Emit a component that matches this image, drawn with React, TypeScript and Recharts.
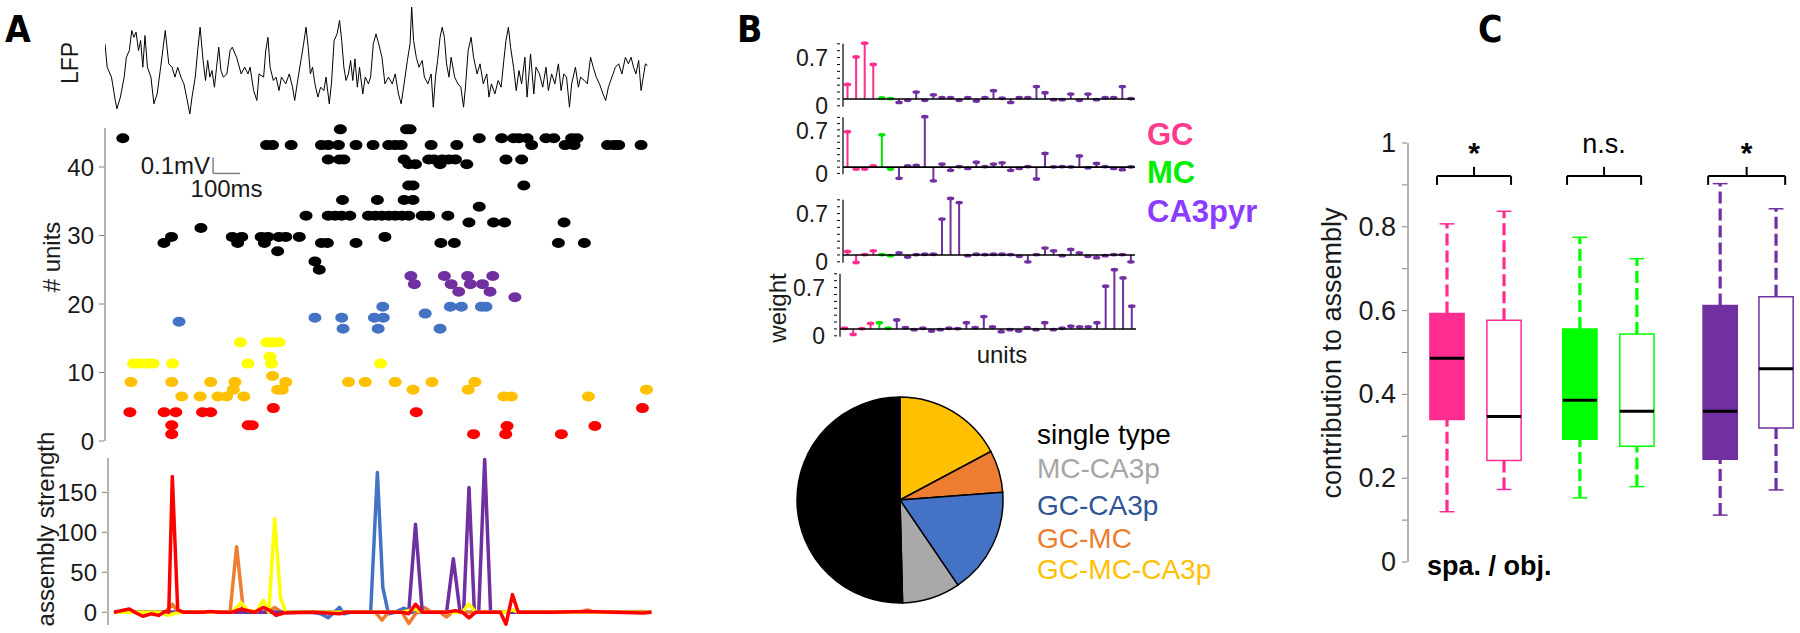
import React from 'react';
import {
  LineChart, Line, XAxis, YAxis, ScatterChart, Scatter, ComposedChart, Bar,
  ReferenceLine, ReferenceArea, PieChart, Pie, Cell, Label,
} from 'recharts';

if (typeof document !== 'undefined') {
  document.body.style.margin = '0';
}

const FONT = '"Liberation Sans", Arial, Helvetica, sans-serif';
const FONT_NARROW = '"Liberation Sans Narrow", "Arial Narrow", "DejaVu Sans Condensed", "Liberation Sans", Arial, sans-serif';
const AXIS_GRAY = '#7f7f7f';
const TXT = '#1a1a1a';

// ---------------- Panel A data ----------------
// LFP trace: [time ms, microvolts]
const lfpTrace: [number, number][] = [
  [0, 146], [8, 0], [24, -62], [38, -208], [44, -260], [57, -187], [71, -62], [79, 62], [90, 104], [99, 229],
  [107, 187], [115, 219], [124, 104], [132, 167], [140, 0], [148, 198], [157, 0], [170, -62], [181, -229], [193, -167],
  [206, 0], [223, 229], [236, 21], [248, 0], [259, -62], [269, 0], [281, -62], [292, -104], [302, -187], [314, -292],
  [322, -187], [334, -62], [343, 104], [352, 250], [363, 42], [372, -83], [380, 42], [388, -62], [396, -21], [405, -125],
  [413, 0], [421, 125], [429, -21], [438, -62], [451, -42], [463, 104], [471, 125], [487, 62], [504, -42], [517, 0],
  [529, -42], [537, 0], [550, -146], [562, -208], [570, -42], [587, -62], [595, 104], [603, 187], [611, 0], [623, -83],
  [633, -62], [644, -146], [653, -62], [669, -104], [682, -42], [694, -125], [702, -208], [715, -62], [727, 62], [735, 146],
  [744, 250], [752, 125], [760, -42], [768, 0], [777, -104], [788, -187], [798, -125], [810, -146], [818, -62], [830, -229],
  [838, -104], [848, 167], [859, 208], [868, 292], [876, 167], [884, 0], [892, -83], [901, -42], [909, 42], [917, -83],
  [925, 52], [934, -125], [942, 0], [954, -167], [963, -62], [975, -104], [983, -62], [993, 146], [1003, 208], [1013, 146],
  [1025, 62], [1036, -104], [1049, -62], [1063, -104], [1074, -42], [1086, -167], [1096, -229], [1107, -104], [1119, 42], [1129, 146],
  [1135, 375], [1142, 167], [1152, 62], [1162, 0], [1174, 42], [1182, -62], [1195, -104], [1207, -42], [1215, -250], [1223, -62],
  [1231, 42], [1240, 187], [1248, 250], [1256, 187], [1264, 21], [1273, -62], [1281, 62], [1294, -62], [1306, -104], [1317, -125],
  [1327, -250], [1334, -125], [1344, 104], [1355, 187], [1364, 62], [1377, -42], [1388, 21], [1400, -104], [1413, -42], [1421, -187],
  [1430, -104], [1443, -167], [1455, -83], [1466, -125], [1476, 42], [1484, 167], [1493, 250], [1501, 125], [1512, 0], [1522, -146],
  [1532, -21], [1542, -104], [1554, 62], [1562, -187], [1575, 83], [1587, -167], [1595, 0], [1608, -42], [1620, -125], [1632, 0],
  [1641, -146], [1653, -42], [1665, -104], [1678, 21], [1688, -146], [1698, -42], [1708, -62], [1719, -250], [1727, -104], [1741, 0],
  [1752, -125], [1760, -62], [1774, -83], [1785, -104], [1797, 62], [1807, 0], [1818, -62], [1830, -104], [1843, -167], [1853, -208],
  [1863, -125], [1876, -62], [1889, 0], [1901, 21], [1913, -42], [1926, 62], [1937, 21], [1947, 62], [1956, 0], [1965, -42],
  [1975, 42], [1984, -146], [1992, -62], [2000, 21], [2008, 10],
];

// Raster: [time ms, unit #]
const rasterBlack: [number, number][] = [
  [871, 45.5], [1116, 45.5], [1129, 45.5],
  [66, 44.2], [1385, 44.2], [1468, 44.2], [1512, 44.2], [1532, 44.2], [1562, 44.2], [1632, 44.2], [1661, 44.2], [1727, 44.2], [1747, 44.2],
  [598, 43.2], [620, 43.2], [689, 43.2], [801, 43.2], [826, 43.2], [864, 43.2], [929, 43.2], [992, 43.2], [1050, 43.2], [1074, 43.2],
  [1096, 43.2], [1207, 43.2], [1302, 43.2], [1579, 43.2], [1703, 43.2], [1736, 43.2], [1860, 43.2], [1884, 43.2], [1901, 43.2], [1984, 43.2],
  [826, 41.1], [868, 41.1], [884, 41.1], [1107, 41.1], [1198, 41.1], [1218, 41.1], [1248, 41.1], [1273, 41.1], [1297, 41.1], [1484, 41.1], [1542, 41.1],
  [1124, 40.4], [1149, 40.4], [1240, 40.4], [1339, 40.4],
  [1124, 37.3], [1140, 37.3], [1550, 37.3],
  [879, 35.2], [1008, 35.2], [1107, 35.2], [1140, 35.2],
  [1385, 34.2],
  [744, 32.9], [826, 32.9], [851, 32.9], [876, 32.9], [906, 32.9], [975, 32.9], [1000, 32.9], [1025, 32.9], [1050, 32.9], [1074, 32.9],
  [1099, 32.9], [1124, 32.9], [1174, 32.9], [1198, 32.9], [1269, 32.9],
  [1347, 31.9], [1438, 31.9], [1479, 31.9], [1699, 31.9],
  [355, 31.1],
  [246, 29.8], [471, 29.8], [506, 29.8], [578, 29.8], [603, 29.8], [644, 29.8], [669, 29.8], [719, 29.8], [1036, 29.8],
  [218, 28.9], [491, 28.9], [590, 28.9], [801, 28.9], [823, 28.9], [929, 28.9], [1243, 28.9], [1293, 28.9], [1678, 28.9], [1774, 28.9],
  [639, 27.7], [777, 26.2], [793, 25.0],
];
const rasterPurple: [number, number][] = [
  [1132, 24.1], [1256, 24.1], [1342, 24.1], [1435, 24.1],
  [1145, 22.9], [1281, 22.9], [1352, 22.9], [1397, 22.9],
  [1309, 21.8], [1425, 21.8], [1517, 21.0],
];
const rasterBlue: [number, number][] = [
  [1028, 19.6], [1278, 19.6], [1319, 19.6], [1393, 19.6], [1410, 19.6],
  [1185, 18.6], [777, 18.0], [876, 18.0], [997, 18.0], [1030, 18.0],
  [274, 17.4], [881, 16.4], [1011, 16.4], [1240, 16.4],
];
const rasterYellow: [number, number][] = [
  [501, 14.4], [600, 14.4], [620, 14.4], [644, 14.4], [611, 12.3],
  [106, 11.3], [130, 11.3], [155, 11.3], [178, 11.3], [250, 11.3], [529, 11.3], [616, 11.3], [1020, 11.3],
];
const rasterGold: [number, number][] = [
  [620, 9.5],
  [96, 8.6], [247, 8.6], [391, 8.6], [481, 8.6], [669, 8.6], [901, 8.6], [963, 8.6], [1074, 8.6], [1210, 8.6], [1369, 8.6],
  [475, 7.5], [639, 7.5], [656, 7.5], [1140, 7.5], [1344, 7.5], [2004, 7.5],
  [284, 6.5], [352, 6.5], [418, 6.5], [450, 6.5], [514, 6.5], [1476, 6.5], [1504, 6.5], [1789, 6.5],
];
const rasterRed: [number, number][] = [
  [623, 4.8], [1989, 4.8],
  [92, 4.2], [219, 4.2], [262, 4.2], [361, 4.2], [391, 4.2], [1152, 4.2],
  [247, 2.3], [530, 2.3], [545, 2.3], [1488, 2.2], [1813, 2.2],
  [247, 1.0], [1364, 1.0], [1483, 1.0], [1689, 1.0],
];

// Assembly strength: [time ms, strength]
const strengthBlue: [number, number][] = [
  [33, 0], [768, 0], [798, -2], [826, -7], [848, 0], [868, 6], [884, -2], [909, 0], [983, 0], [1008, 175],
  [1028, 31], [1049, -2], [1074, 0], [1107, 5], [1132, 0], [2022, 0],
];
const strengthOrange: [number, number][] = [
  [33, 0], [223, 0], [249, 10], [269, 1], [438, 0], [463, 1], [487, 82], [512, 2], [537, 0], [603, 0],
  [628, 6], [653, 0], [1000, 0], [1025, -10], [1049, 0], [1099, 0], [1124, -14], [1149, -2], [1182, 6], [1207, 0],
  [1240, 0], [1264, -6], [1289, 1], [1314, 0], [1760, 0], [1785, 3], [1810, 0], [1992, 1], [2022, 0],
];
const strengthPurple: [number, number][] = [
  [33, 0], [1124, 0], [1149, 110], [1174, 0], [1264, 0], [1289, 67], [1314, 0], [1327, 0], [1347, 156], [1367, 0],
  [1383, 0], [1405, 191], [1427, 0], [2022, 0],
];
const strengthYellow: [number, number][] = [
  [33, 0], [206, 0], [231, -4], [264, -1], [289, 0], [471, 0], [504, 12], [529, 2], [562, 1], [586, 15],
  [606, 0], [628, 117], [649, 19], [669, 0], [1099, 0], [1149, 4], [1174, 0], [1322, 0], [1347, 10], [1372, 0],
  [1479, 0], [1508, 3], [1529, 0], [2022, 0],
];
const strengthRed: [number, number][] = [
  [33, 0], [90, 4], [115, -1], [140, -5], [170, -2], [198, -4], [223, 1], [236, 0], [249, 170], [269, 3],
  [289, 0], [363, 0], [388, 1], [421, 0], [471, 0], [504, 4], [529, 2], [553, 0], [586, 6], [611, 2],
  [633, -4], [661, -1], [768, 0], [868, -2], [892, 0], [1099, 0], [1124, -2], [1149, 10], [1174, 0], [1264, 0],
  [1297, 2], [1322, 0], [1347, -7], [1372, 0], [1463, 0], [1484, -15], [1508, 22], [1529, 0], [1661, 0], [1777, 1],
  [1992, -1], [2022, 0],
];

// ---------------- Panel B data ----------------
const unitCounts = { GC: 4, MC: 2, CA3: 28 };
const weights1 = [0.21, 0.61, 0.81, 0.50, 0.015, 0.005, -0.05, -0.02, 0.10, -0.02, 0.06, 0.02, 0.02, -0.02, 0.02, -0.03, 0.02, 0.12, 0.01, -0.05, 0.02, 0.02, 0.18, 0.09, -0.01, -0.01, 0.07, -0.02, 0.07, -0.01, 0.02, 0.02, 0.18, 0.005];
const weights2 = [0.57, -0.03, -0.03, 0.02, 0.52, -0.03, -0.18, 0.02, 0.03, 0.81, -0.22, 0.05, -0.05, 0.01, -0.02, 0.08, 0.01, 0.05, 0.07, -0.05, -0.02, 0.01, -0.19, 0.22, 0.005, 0.01, 0.005, 0.18, -0.01, 0.06, 0.01, -0.02, -0.04, 0.005];
const weights3 = [0.05, -0.11, 0.005, 0.06, 0.005, -0.01, 0.03, -0.03, 0.005, 0.01, 0.01, 0.52, 0.82, 0.76, -0.01, 0.01, 0.005, 0.01, 0.01, 0.005, -0.02, -0.10, 0.005, 0.10, 0.06, -0.01, 0.08, 0.03, -0.02, -0.04, -0.01, 0.005, 0.005, -0.10];
const weights4 = [0.01, -0.08, 0.005, 0.08, 0.09, 0.01, 0.13, 0.02, -0.01, 0.01, -0.03, -0.01, 0.01, 0.005, 0.09, 0.02, 0.18, 0.03, -0.04, -0.01, -0.03, 0.02, -0.01, 0.09, -0.01, 0.01, 0.04, 0.03, 0.03, 0.09, 0.62, 0.86, 0.74, 0.33];
const stemTicks = [-0.1, 0, 0.1, 0.2, 0.3, 0.4, 0.5, 0.6, 0.7, 0.8];

const pieLabels = ['GC-MC-CA3p', 'GC-MC', 'GC-CA3p', 'MC-CA3p', 'single type'];
const piePercent = [17.2, 6.6, 16.7, 9.1, 50.4];
const pieColors = ['#FFC000', '#ED7D31', '#4472C4', '#A9A9A9', '#000000'];

// ---------------- Panel C data ----------------
const boxPos = [1, 2, 3.33, 4.33, 5.79, 6.77];
const boxMin = [0.120, 0.173, 0.153, 0.180, 0.112, 0.172];
const boxQ1 = [0.340, 0.242, 0.293, 0.276, 0.245, 0.320];
const boxMed = [0.486, 0.347, 0.386, 0.360, 0.360, 0.461];
const boxQ3 = [0.593, 0.577, 0.556, 0.544, 0.612, 0.633];
const boxMax = [0.807, 0.837, 0.775, 0.724, 0.903, 0.843];
const boxFilled = [true, false, true, false, true, false];
const boxColors = ['#FF2D8F', '#FF2D8F', '#00FF00', '#00FF00', '#7030A0', '#7030A0'];
const sigLeft = [0.825, 3.105, 5.579];
const sigRight = [2.123, 4.404, 6.93];
const sigText = ['*', 'n.s.', '*'];
const cTicks = [0, 0.1, 0.2, 0.3, 0.4, 0.5, 0.6, 0.7, 0.8, 0.9, 1];

// ---------------- helpers ----------------
const typeColor: Record<string, string> = { GC: '#FF2D8F', MC: '#00E600', CA3: '#7030A0' };

function unitTypes(): string[] {
  const out: string[] = [];
  (Object.keys(unitCounts) as (keyof typeof unitCounts)[]).forEach((k) => {
    for (let i = 0; i < unitCounts[k]; i++) out.push(k);
  });
  return out;
}

function makeTick(opts: {
  len: number; fontSize: number; gap: number; dy: number; lineColor: string;
  fmt: (v: number) => string | null;
}) {
  return (props: any) => {
    const { x, y, payload } = props;
    const label = opts.fmt(payload.value);
    return (
      <g>
        <line x1={x} x2={x + opts.len} y1={y} y2={y} stroke={opts.lineColor} strokeWidth={1} />
        {label !== null && (
          <text x={x - opts.gap} y={y + opts.dy} textAnchor="end" dominantBaseline="central"
            fontSize={opts.fontSize} fill={TXT} fontFamily={FONT}>{label}</text>
        )}
      </g>
    );
  };
}

const toPts = (arr: [number, number][]) => arr.map(([t, v]) => ({ t, v }));
const toRaster = (arr: [number, number][]) => arr.map(([t, u]) => ({ t, u }));

const StemShape = (props: any) => {
  const { x, y, width, height, payload } = props;
  if (x == null || y == null) return null;
  const cx = x + width / 2;
  const v = payload.w;
  const y1 = y;
  const y2 = y + (height || 0);
  const tip = v >= 0 ? Math.min(y1, y2) : Math.max(y1, y2);
  const base = v >= 0 ? Math.max(y1, y2) : Math.min(y1, y2);
  const c = typeColor[payload.type];
  return (
    <g>
      <line x1={cx} x2={cx} y1={base} y2={tip} stroke={c} strokeWidth={2} />
      <ellipse cx={cx} cy={tip} rx={3.8} ry={1.9} fill={c} />
    </g>
  );
};

function StemPlot({ weights, zeroY, axisX, plotW }: { weights: number[]; zeroY: number; axisX: number; plotW: number }) {
  const types = unitTypes();
  const data = weights.map((w, i) => ({ i, w, type: types[i] }));
  const pxPerUnit = 68.9;
  const top = zeroY - 0.87 * pxPerUnit;
  const plotH = 0.985 * pxPerUnit;
  const tick = makeTick({
    len: 3, fontSize: 23, gap: 9, dy: 7, lineColor: '#000',
    fmt: (v) => (Math.abs(v) < 1e-9 ? '0' : Math.abs(v - 0.7) < 1e-9 ? '0.7' : null),
  });
  return (
    <div style={{ position: 'absolute', left: axisX - 50, top: top - 4 }}>
      <ComposedChart width={50 + plotW + 5} height={plotH + 22} data={data}
        margin={{ top: 4, right: 5, bottom: 18, left: 0 }} barCategoryGap={1}>
        <XAxis dataKey="i" type="category" hide />
        <XAxis xAxisId="n" type="number" domain={[0, 1]} hide />
        <YAxis type="number" domain={[-0.115, 0.87]} ticks={stemTicks} interval={0} width={50}
          axisLine={false} tickLine={false} tickMargin={0} tick={tick} />
        <ReferenceLine xAxisId="n" segment={[{ x: 0, y: -0.115 }, { x: 0, y: 0.8 }]} stroke="#000" strokeWidth={1.2} />
        <ReferenceLine y={0} stroke="#000" strokeWidth={1.6} />
        <Bar dataKey="w" shape={StemShape} isAnimationActive={false} />
      </ComposedChart>
    </div>
  );
}

const ellipseShape = (color: string) => (p: any) => (
  <ellipse cx={p.cx} cy={p.cy} rx={6.5} ry={5} fill={color} />
);

const EmptyShape = () => <g />;

export default function App() {
  const lfpData = toPts(lfpTrace);
  const rasterGroups: { data: [number, number][]; color: string }[] = [
    { data: rasterBlack, color: '#000000' },
    { data: rasterPurple, color: '#7030A0' },
    { data: rasterBlue, color: '#4472C4' },
    { data: rasterYellow, color: '#FFFF00' },
    { data: rasterGold, color: '#FFC000' },
    { data: rasterRed, color: '#FF0000' },
  ];
  const strengthSeries: { data: [number, number][]; color: string }[] = [
    { data: strengthBlue, color: '#4472C4' },
    { data: strengthOrange, color: '#ED7D31' },
    { data: strengthPurple, color: '#7030A0' },
    { data: strengthYellow, color: '#FFFF00' },
    { data: strengthRed, color: '#FF0000' },
  ];
  const rasterTick = makeTick({ len: 5, fontSize: 24, gap: 5, dy: 0, lineColor: AXIS_GRAY, fmt: (v) => String(v) });
  const cTick = makeTick({
    len: 5, fontSize: 27, gap: 6, dy: 0, lineColor: AXIS_GRAY,
    fmt: (v) => (Math.round(v * 10) % 2 === 0 ? String(Math.round(v * 10) / 10) : null),
  });
  const pieData = pieLabels.map((name, i) => ({ name, value: piePercent[i] }));
  const boxData = boxPos.map((x, i) => ({ x, med: boxMed[i] }));

  return (
    <div style={{ position: 'relative', width: 1800, height: 633, background: '#fff', overflow: 'hidden', fontFamily: FONT }}>
      {/* LFP */}
      <div style={{ position: 'absolute', left: 105, top: 0 }}>
        <LineChart width={545} height={215} data={lfpData} margin={{ top: 0, right: 0, bottom: 0, left: 0 }}>
          <XAxis type="number" dataKey="t" domain={[0, 2017]} hide />
          <YAxis type="number" domain={[-923.75, 420]} hide />
          <Line dataKey="v" stroke="#000" strokeWidth={1} dot={false} isAnimationActive={false} />
          <ReferenceLine segment={[{ x: 400, y: -564 }, { x: 400, y: -664 }]} stroke="#808080" strokeWidth={1.5}>
            <Label value="0.1mV" position="left" offset={3} fontSize={24} fill={TXT} fontFamily={FONT} />
          </ReferenceLine>
          <ReferenceLine segment={[{ x: 400, y: -664 }, { x: 500, y: -664 }]} stroke="#808080" strokeWidth={1.5}>
            <Label value="100ms" position="bottom" offset={7} fontSize={24} fill={TXT} fontFamily={FONT} />
          </ReferenceLine>
        </LineChart>
      </div>

      {/* Raster */}
      <div style={{ position: 'absolute', left: 45, top: 118 }}>
        <ScatterChart width={620} height={341} margin={{ top: 10, right: 15, bottom: 18, left: 0 }}>
          <XAxis type="number" dataKey="t" domain={[0, 2017]} hide />
          <YAxis type="number" dataKey="u" domain={[0, 45.7]} ticks={[0, 10, 20, 30, 40]} interval={0} width={60}
            axisLine={{ stroke: AXIS_GRAY, strokeWidth: 1.2 }} tickLine={false} tickMargin={0} tick={rasterTick} />
          {rasterGroups.map((g, i) => (
            <Scatter key={i} data={toRaster(g.data)} fill={g.color} shape={ellipseShape(g.color)} isAnimationActive={false} />
          ))}
        </ScatterChart>
      </div>

      {/* Assembly strength */}
      <div style={{ position: 'absolute', left: 48, top: 452 }}>
        <LineChart width={615} height={181} margin={{ top: 6, right: 10, bottom: 8, left: 0 }}>
          <XAxis type="number" dataKey="t" domain={[11, 2028]} hide />
          <YAxis type="number" domain={[-16, 193]} ticks={[0, 50, 100, 150]} interval={0} width={60}
            axisLine={{ stroke: AXIS_GRAY, strokeWidth: 1.2 }} tickLine={false} tickMargin={0} tick={rasterTick} />
          {strengthSeries.map((s, i) => (
            <Line key={i} data={toPts(s.data)} dataKey="v" stroke={s.color} strokeWidth={3.5} dot={false}
              isAnimationActive={false} strokeLinejoin="round" />
          ))}
        </LineChart>
      </div>

      {/* Panel B stems */}
      <StemPlot weights={weights1} zeroY={99.3} axisX={843} plotW={292} />
      <StemPlot weights={weights2} zeroY={173} axisX={843} plotW={292} />
      <StemPlot weights={weights3} zeroY={255} axisX={843} plotW={292} />
      <StemPlot weights={weights4} zeroY={329} axisX={840} plotW={296} />

      {/* Pie */}
      <div style={{ position: 'absolute', left: 785, top: 385 }}>
        <PieChart width={220} height={220}>
          <Pie data={pieData} dataKey="value" nameKey="name" cx={110} cy={110} outerRadius={103}
            startAngle={90} endAngle={-270} stroke="#000" strokeWidth={1.5} isAnimationActive={false}>
            {pieData.map((_, i) => <Cell key={i} fill={pieColors[i]} />)}
          </Pie>
        </PieChart>
      </div>

      {/* Panel C boxplots */}
      <div style={{ position: 'absolute', left: 1328, top: 103 }}>
        <ComposedChart width={472} height={479} data={boxData} margin={{ top: 40, right: 0, bottom: 20, left: 0 }}>
          <XAxis type="number" dataKey="x" domain={[0.316, 7.19]} hide />
          <YAxis type="number" domain={[0, 1]} ticks={cTicks} interval={0} width={80}
            axisLine={{ stroke: AXIS_GRAY, strokeWidth: 1.2 }} tickLine={false} tickMargin={0} tick={cTick} />
          <Scatter dataKey="med" shape={EmptyShape} isAnimationActive={false} />
          {boxPos.map((p, i) => (
            <ReferenceLine key={`wl${i}`} segment={[{ x: p, y: boxMin[i] }, { x: p, y: boxQ1[i] }]}
              stroke={boxColors[i]} strokeWidth={3.2} strokeDasharray="12 5" />
          ))}
          {boxPos.map((p, i) => (
            <ReferenceLine key={`wu${i}`} segment={[{ x: p, y: boxQ3[i] }, { x: p, y: boxMax[i] }]}
              stroke={boxColors[i]} strokeWidth={3.2} strokeDasharray="12 5" />
          ))}
          {boxPos.map((p, i) => (
            <ReferenceLine key={`cl${i}`} segment={[{ x: p - 0.13, y: boxMin[i] }, { x: p + 0.13, y: boxMin[i] }]}
              stroke={boxColors[i]} strokeWidth={1.5} />
          ))}
          {boxPos.map((p, i) => (
            <ReferenceLine key={`cu${i}`} segment={[{ x: p - 0.13, y: boxMax[i] }, { x: p + 0.13, y: boxMax[i] }]}
              stroke={boxColors[i]} strokeWidth={1.5} />
          ))}
          {boxPos.map((p, i) => (
            <ReferenceArea key={`b${i}`} x1={p - 0.3} x2={p + 0.3} y1={boxQ1[i]} y2={boxQ3[i]}
              fill={boxFilled[i] ? boxColors[i] : '#ffffff'} fillOpacity={1}
              stroke={boxColors[i]} strokeWidth={1.5} />
          ))}
          {boxPos.map((p, i) => (
            <ReferenceLine key={`m${i}`} segment={[{ x: p - 0.3, y: boxMed[i] }, { x: p + 0.3, y: boxMed[i] }]}
              stroke="#000" strokeWidth={3} />
          ))}
          {sigLeft.map((l, i) => (
            <ReferenceLine key={`sh${i}`} segment={[{ x: l, y: 0.921 }, { x: sigRight[i], y: 0.921 }]} stroke="#000" strokeWidth={2} />
          ))}
          {sigLeft.map((l, i) => (
            <ReferenceLine key={`sl${i}`} segment={[{ x: l, y: 0.9 }, { x: l, y: 0.921 }]} stroke="#000" strokeWidth={2} />
          ))}
          {sigRight.map((r, i) => (
            <ReferenceLine key={`sr${i}`} segment={[{ x: r, y: 0.9 }, { x: r, y: 0.921 }]} stroke="#000" strokeWidth={2} />
          ))}
          {sigLeft.map((l, i) => {
            const mid = (l + sigRight[i]) / 2;
            const isStar = sigText[i] === '*';
            return (
              <ReferenceLine key={`st${i}`} segment={[{ x: mid, y: 0.921 }, { x: mid, y: 0.943 }]} stroke="#000" strokeWidth={2}>
                <Label value={sigText[i]} position="top" offset={isStar ? 4 : 14} fontSize={isStar ? 30 : 27}
                  fontWeight={isStar ? 'bold' : 'normal'} fill="#000" fontFamily={FONT} />
              </ReferenceLine>
            );
          })}
        </ComposedChart>
      </div>

      {/* Text overlay */}
      <svg width={1800} height={633} style={{ position: 'absolute', left: 0, top: 0, pointerEvents: 'none' }}>
        <g fontFamily={FONT_NARROW} fontWeight="bold" fontSize={37} fill="#000">
          <text x={5} y={42}>A</text>
          <text x={737} y={42}>B</text>
          <text x={1478} y={42}>C</text>
        </g>
        <g fontFamily={FONT} fill={TXT}>
          <text transform="translate(78,63) rotate(-90)" textAnchor="middle" fontSize={23}>LFP</text>
          <text transform="translate(60,257) rotate(-90)" textAnchor="middle" fontSize={24}># units</text>
          <text transform="translate(54,529) rotate(-90)" textAnchor="middle" fontSize={24}>assembly strength</text>
          <text transform="translate(786,308) rotate(-90)" textAnchor="middle" fontSize={24}>weight</text>
          <text x={1002} y={363} textAnchor="middle" fontSize={24}>units</text>
          <text transform="translate(1341,353) rotate(-90)" textAnchor="middle" fontSize={27}>contribution to assembly</text>
        </g>
        <g fontFamily={FONT} fontWeight="bold" fontSize={31}>
          <text x={1147} y={145} fill="#FF3A8C">GC</text>
          <text x={1147} y={183} fill="#00EE00">MC</text>
          <text x={1147} y={222} fill="#8C3CFF">CA3pyr</text>
        </g>
        <g fontFamily={FONT} fontSize={28}>
          <text x={1037} y={444} fill="#000">single type</text>
          <text x={1037} y={478} fill="#A6A6A6">MC-CA3p</text>
          <text x={1037} y={515} fill="#2F5597">GC-CA3p</text>
          <text x={1037} y={548} fill="#ED7D31">GC-MC</text>
          <text x={1037} y={579} fill="#FFC000">GC-MC-CA3p</text>
        </g>
        <text x={1427} y={575} fontFamily={FONT} fontWeight="bold" fontSize={27} fill="#000">spa. / obj.</text>
      </svg>
    </div>
  );
}
